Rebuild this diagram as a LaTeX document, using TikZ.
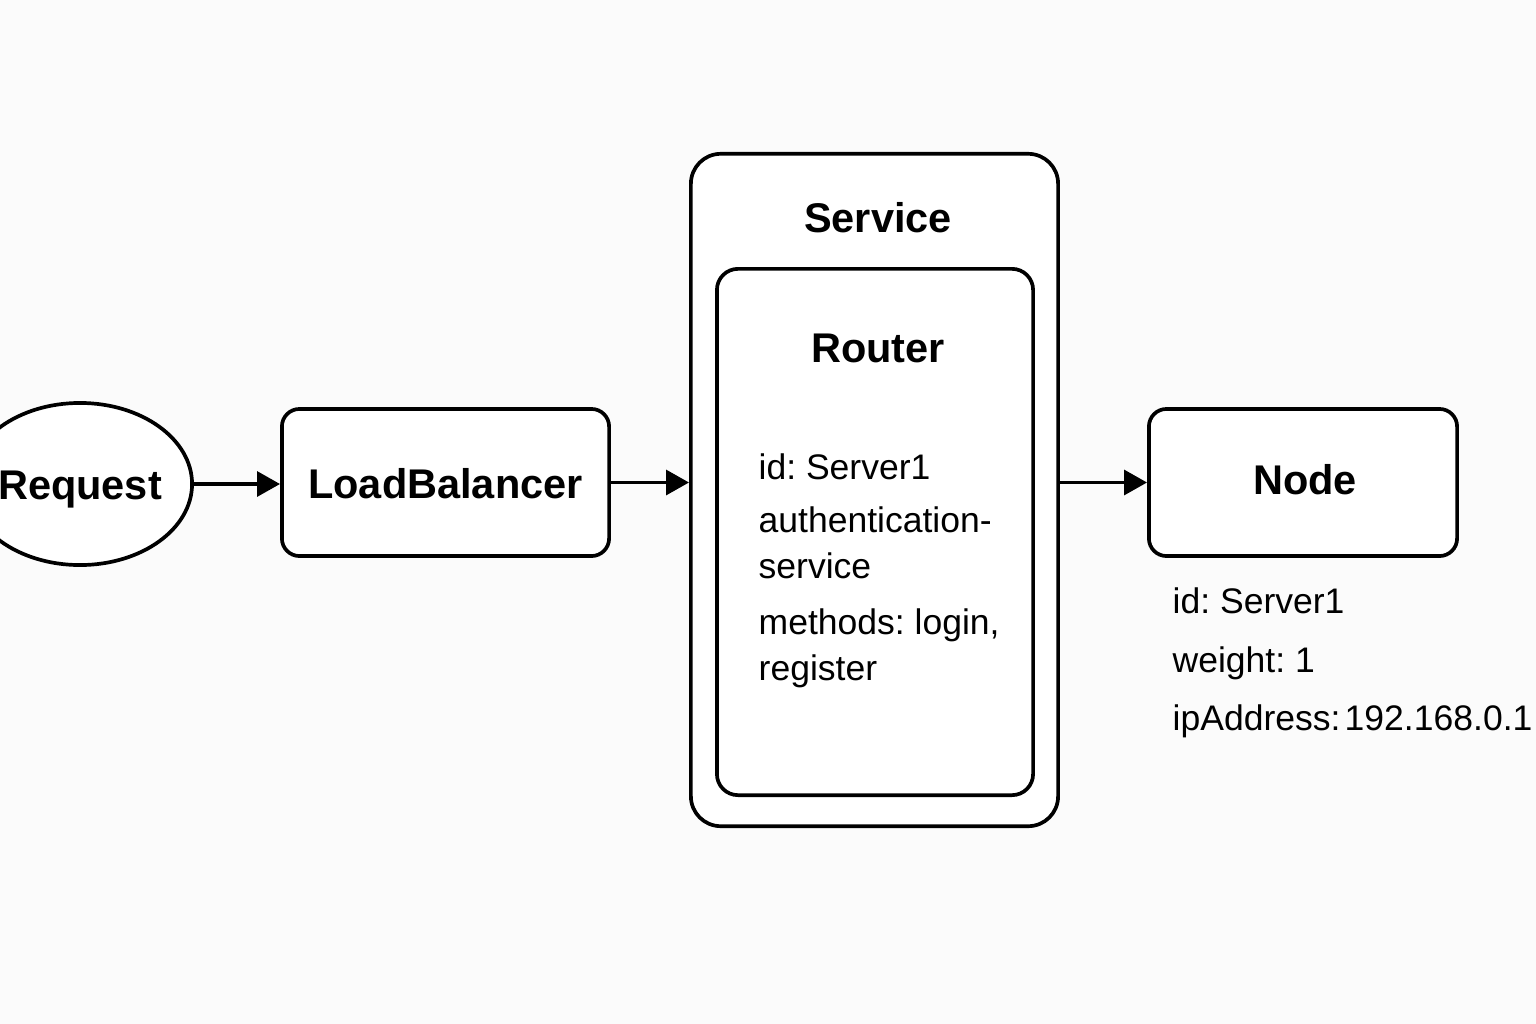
\documentclass[tikz,border=0pt]{standalone}
\usepackage{fontspec}
\setmainfont{Liberation Sans}
\usetikzlibrary{arrows.meta,shapes.geometric}
\definecolor{bgc}{RGB}{251,251,251}
\frenchspacing
\tikzset{
  box/.style={draw=black, line width=1.05pt, rounded corners=#1, fill=white, inner sep=0pt},
  box/.default=5pt,
  title/.style={font=\bfseries\fontsize{11.8}{14}\selectfont, inner sep=0pt, anchor=base},
  info/.style={font=\fontsize{10.1}{12}\selectfont, inner sep=0pt, anchor=base west},
  conn/.style={draw=black, line width=1.1pt, -{Triangle[length=6.5pt,width=7pt]}}
}
\begin{document}
\begin{tikzpicture}[x=0.01cm,y=-0.01cm]
\frenchspacing
\useasboundingbox (0,0) rectangle (1536,1024);
\fill[bgc] (0,0) rectangle (1536,1024);

% Request ellipse (partly cut by the left edge)
\node[ellipse, draw=black, line width=1.05pt, fill=white, inner sep=0pt,
      minimum width=2.24cm, minimum height=1.62cm] (req) at (80,484) {};
\node[title] (reqt) at (80,499) {Request};

% LoadBalancer
\node[box=5pt, minimum width=3.27cm, minimum height=1.47cm] (lb) at (445.5,482.5) {};
\node[title] (lbt) at (445.5,498) {LoadBalancer};

% Service outer box
\node[box=8.5pt, minimum width=3.67cm, minimum height=6.72cm] (svc) at (874.5,490) {};
\node[title] (svct) at (878,232) {Service};

% Router inner box
\node[box=6pt, minimum width=3.16cm, minimum height=5.26cm] (rtr) at (875,532) {};
\node[title] (rtrt) at (878,362) {Router};
\node[info] (r1) at (758,479) {id: Server1};
\node[info] (r2) at (758,532) {authentication-};
\node[info] (r3) at (758,578) {service};
\node[info] (r4) at (758,634) {methods: login,};
\node[info] (r5) at (758,680) {register};

% Node box
\node[box=5pt, minimum width=3.08cm, minimum height=1.47cm] (nd) at (1303,482.5) {};
\node[title] (ndt) at (1305,494) {Node};
\node[info] (n1) at (1172,613) {id: Server1};
\node[info] (n2) at (1172,672) {weight: 1};
\node[info] (n3) at (1172,730) {ipAddress:\hspace{0.12em}192.168.0.1};

% connectors
\draw[conn] (req.east) -- (req.east -| lb.west);
\draw[conn] (lb.east) -- (svc.west |- lb.east);
\draw[conn] (svc.east |- nd.west) -- (nd.west);
\end{tikzpicture}
\end{document}
